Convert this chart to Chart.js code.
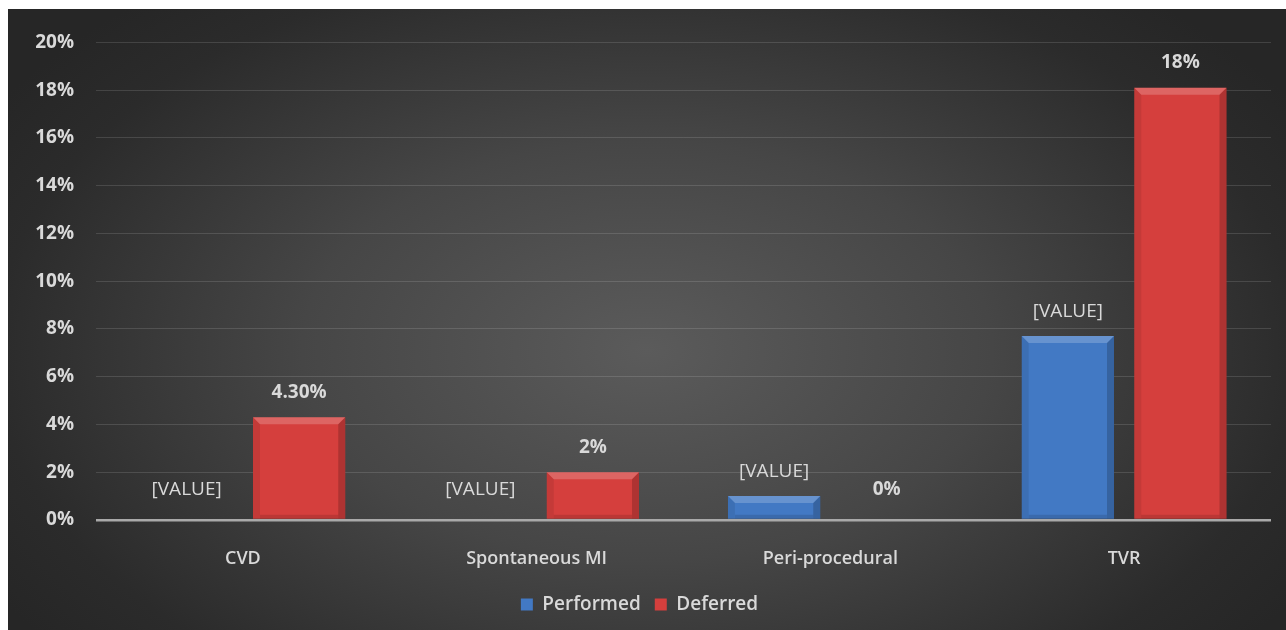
<!DOCTYPE html>
<html>
<head>
<meta charset="utf-8">
<script src="https://cdn.jsdelivr.net/npm/chart.js@4/dist/chart.umd.min.js"></script>
<style>
  html, body { margin: 0; padding: 0; background: #ffffff; }
  #wrap {
    position: absolute; left: 8px; top: 9px; width: 1278px; height: 621px;
    background: radial-gradient(ellipse 60% 75% at 50% 55%, #5b5b5b 0%, #464646 45%, #2b2b2b 85%, #262626 100%);
  }
</style>
</head>
<body>
<div id="wrap"><canvas id="chart" width="1278" height="621"></canvas></div>
<script>
// --- data ---
const categories = ['CVD', 'Spontaneous MI', 'Peri-procedural', 'TVR'];
const performed = [0, 0, 1, 7.7];
const deferred = [4.3, 2, 0, 18.1];
const performedLabels = ['[VALUE]', '[VALUE]', '[VALUE]', '[VALUE]'];
const deferredLabels = ['4.30%', '2%', '0%', '18%'];
const yTicks = [0, 2, 4, 6, 8, 10, 12, 14, 16, 18, 20];

const FONT = '"Open Sans", Lato, sans-serif';
const TEXT = '#d9d9d9';
const BLUE = '#4279c4';
const RED = '#d53f3d';

// value labels above each bar
const valueLabels = {
    id: 'valueLabels',
    afterDatasetsDraw(chart) {
        const ctx = chart.ctx;
        ctx.save();
        ctx.textAlign = 'center';
        ctx.textBaseline = 'middle';
        ctx.fillStyle = TEXT;
        chart.data.datasets.forEach((ds, di) => {
            const meta = chart.getDatasetMeta(di);
            const texts = di === 0 ? performedLabels : deferredLabels;
            ctx.font = (di === 0 ? '400 ' : '700 ') + '19px ' + FONT;
            meta.data.forEach((bar, i) => {
                const lift = ds.data[i] === 0 ? 30 : 25;
                ctx.fillText(texts[i], bar.x, bar.y - lift);
            });
        });
        ctx.restore();
    }
};

// simple bevel on the bars, like the Excel style
const bevel = {
    id: 'bevel',
    afterDatasetsDraw(chart) {
        const ctx = chart.ctx;
        ctx.save();
        chart.data.datasets.forEach((ds, di) => {
            chart.getDatasetMeta(di).data.forEach(bar => {
                const w = bar.width, l = bar.x - w / 2, r = bar.x + w / 2;
                const t = bar.y, b = bar.base, h = b - t;
                if (h < 1) return;
                const e = Math.min(7, h / 2);
                ctx.fillStyle = 'rgba(255,255,255,0.2)';
                ctx.beginPath();
                ctx.moveTo(l, t); ctx.lineTo(r, t); ctx.lineTo(r - e, t + e); ctx.lineTo(l + e, t + e);
                ctx.closePath(); ctx.fill();
                ctx.fillStyle = 'rgba(0,0,0,0.08)';
                ctx.beginPath();
                ctx.moveTo(l, t); ctx.lineTo(l + e, t + e); ctx.lineTo(l + e, b); ctx.lineTo(l, b);
                ctx.closePath(); ctx.fill();
                ctx.fillStyle = 'rgba(0,0,0,0.18)';
                ctx.beginPath();
                ctx.moveTo(r, t); ctx.lineTo(r - e, t + e); ctx.lineTo(r - e, b); ctx.lineTo(r, b);
                ctx.closePath(); ctx.fill();
                ctx.fillStyle = 'rgba(0,0,0,0.12)';
                ctx.fillRect(l + e, b - 4, w - 2 * e, 4);
            });
        });
        ctx.restore();
    }
};

new Chart(document.getElementById('chart'), {
    type: 'bar',
    data: {
        labels: categories,
        datasets: [
            { label: 'Performed', data: performed, backgroundColor: BLUE,
              categoryPercentage: 0.766, barPercentage: 0.82 },
            { label: 'Deferred', data: deferred, backgroundColor: RED,
              categoryPercentage: 0.766, barPercentage: 0.82 }
        ]
    },
    options: {
        responsive: false,
        animation: false,
        layout: { padding: { top: 17, right: 15, bottom: 6, left: 0 } },
        plugins: {
            tooltip: { enabled: false },
            legend: {
                position: 'bottom',
                labels: {
                    color: TEXT,
                    boxWidth: 12, boxHeight: 12,
                    padding: 14,
                    font: { family: FONT, size: 19, weight: '600' },
                    generateLabels(chart) {
                        return chart.data.datasets.map((ds, i) => ({
                            text: ds.label,
                            fillStyle: i === 0 ? BLUE : RED,
                            strokeStyle: 'rgba(0,0,0,0)',
                            lineWidth: 0,
                            fontColor: TEXT,
                            datasetIndex: i
                        }));
                    }
                }
            }
        },
        scales: {
            x: {
                grid: { display: false },
                border: { display: false },
                ticks: { color: TEXT, font: { family: FONT, size: 18, weight: '600' }, padding: 20 },
                afterFit(scale) { scale.height = 61; }
            },
            y: {
                min: 0, max: 20,
                afterFit(scale) { scale.width = 88; },
                afterBuildTicks(scale) { scale.ticks = yTicks.map(v => ({ value: v })); },
                border: { display: false },
                grid: {
                    drawTicks: false,
                    color: c => c.tick && c.tick.value === 0 ? '#a9a9a9' : 'rgba(255,255,255,0.13)',
                    lineWidth: c => c.tick && c.tick.value === 0 ? 2.5 : 1
                },
                ticks: {
                    color: TEXT,
                    padding: 22,
                    font: { family: FONT, size: 19, weight: '700' },
                    callback: v => v + '%'
                }
            }
        }
    },
    plugins: [bevel, valueLabels]
});
</script>
</body>
</html>
